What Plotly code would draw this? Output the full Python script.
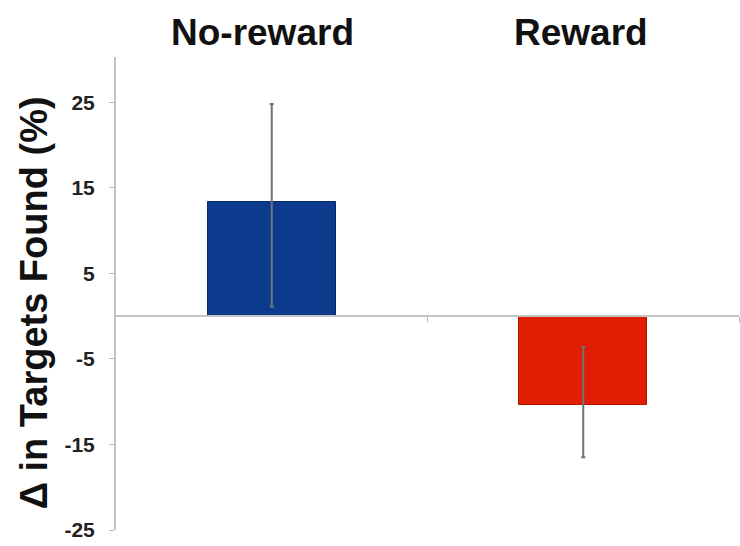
import plotly.graph_objects as go

categories = ["No-reward", "Reward"]
values = [13.3, -10.4]
err_plus = [11.5, 6.8]
err_minus = [12.2, 6.1]
colors = ["#0c3a8c", "#e11d02"]
edge_colors = ["#082a6a", "#b01500"]
y_ticks = [25, 15, 5, -5, -15, -25]
y_min, y_max = -25, 30.3
label_shift = [-9, -2]

x_pos = list(range(len(categories)))

fig = go.Figure()
fig.add_trace(go.Bar(
    x=x_pos, y=values, width=0.41,
    marker=dict(color=colors, line=dict(color=edge_colors, width=1)),
    error_y=dict(type="data", array=err_plus, arrayminus=err_minus,
                 symmetric=False, color="#6e747c", thickness=2, width=2),
    showlegend=False,
))

for xi, name, sh in zip(x_pos, categories, label_shift):
    fig.add_annotation(x=xi, y=1, xref="x", yref="paper", yanchor="bottom",
                       xanchor="center", yshift=2, xshift=sh, text=f"<b>{name}</b>",
                       showarrow=False,
                       font=dict(family="Liberation Sans, Arial", size=37, color="#111111"))

fig.add_annotation(x=-0.131, y=0.48, xref="paper", yref="paper",
                   xanchor="center", yanchor="middle",
                   text="<b>Δ in Targets Found (%)</b>", textangle=-90, showarrow=False,
                   font=dict(family="Liberation Sans, Arial", size=38, color="#111111"))

zero_pos = (0 - y_min) / (y_max - y_min)

fig.update_layout(
    width=740, height=546,
    margin=dict(l=116, r=1, t=57, b=16),
    paper_bgcolor="white", plot_bgcolor="white",
    font=dict(family="Liberation Sans, Arial"),
    xaxis=dict(range=[-0.5, 1.5], anchor="free", position=zero_pos,
               showline=True, linecolor="#c4c4c4", linewidth=2,
               tickvals=[0.5, 1.5], ticktext=["", ""], ticks="outside",
               ticklen=5, tickcolor="#b8b8b8", showgrid=False, zeroline=False),
    yaxis=dict(range=[y_min, y_max], tickvals=y_ticks,
               ticktext=[f"<b>{v}</b>" for v in y_ticks],
               showline=True, linecolor="#c4c4c4", linewidth=2,
               ticks="outside", ticklen=5, tickcolor="#b8b8b8",
               ticklabelstandoff=10,
               tickfont=dict(size=21, color="#222222"),
               showgrid=False, zeroline=False),
    bargap=0,
)

fig.write_html("out.html")
